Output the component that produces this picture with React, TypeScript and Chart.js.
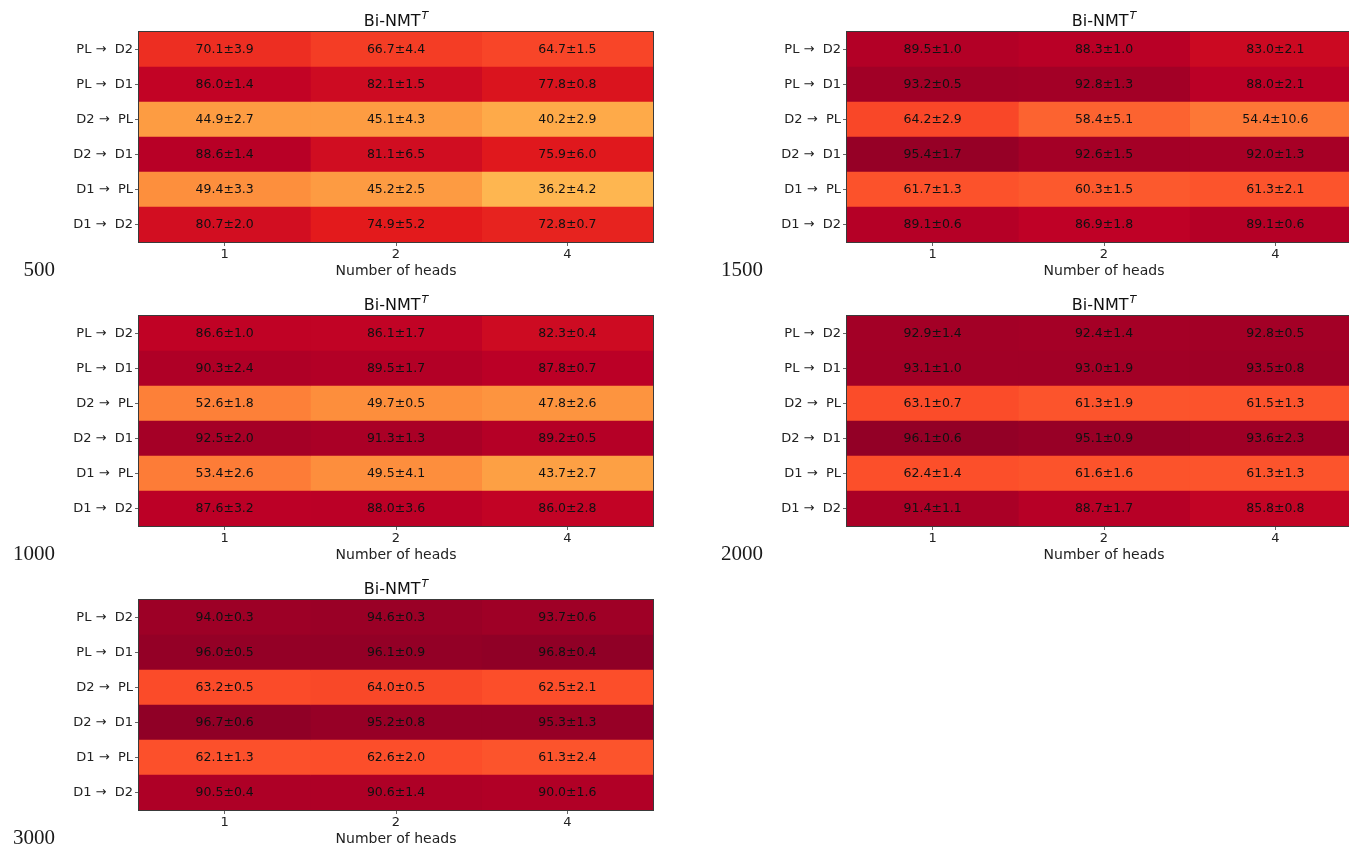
import React, { useEffect, useRef } from "react";
import { Chart, registerables } from "chart.js";

Chart.register(...registerables);

// ---------- data ----------
const rowLabels = ["PL \u2192  D2", "PL \u2192  D1", "D2 \u2192  PL", "D2 \u2192  D1", "D1 \u2192  PL", "D1 \u2192  D2"];
const headLabels = ["1", "2", "4"];
const panelTitle = "Bi-NMT";
const xAxisTitle = "Number of heads";

const mean500 = [
  [70.1, 66.7, 64.7],
  [86.0, 82.1, 77.8],
  [44.9, 45.1, 40.2],
  [88.6, 81.1, 75.9],
  [49.4, 45.2, 36.2],
  [80.7, 74.9, 72.8],
];
const std500 = [
  [3.9, 4.4, 1.5],
  [1.4, 1.5, 0.8],
  [2.7, 4.3, 2.9],
  [1.4, 6.5, 6.0],
  [3.3, 2.5, 4.2],
  [2.0, 5.2, 0.7],
];

const mean1500 = [
  [89.5, 88.3, 83.0],
  [93.2, 92.8, 88.0],
  [64.2, 58.4, 54.4],
  [95.4, 92.6, 92.0],
  [61.7, 60.3, 61.3],
  [89.1, 86.9, 89.1],
];
const std1500 = [
  [1.0, 1.0, 2.1],
  [0.5, 1.3, 2.1],
  [2.9, 5.1, 10.6],
  [1.7, 1.5, 1.3],
  [1.3, 1.5, 2.1],
  [0.6, 1.8, 0.6],
];

const mean1000 = [
  [86.6, 86.1, 82.3],
  [90.3, 89.5, 87.8],
  [52.6, 49.7, 47.8],
  [92.5, 91.3, 89.2],
  [53.4, 49.5, 43.7],
  [87.6, 88.0, 86.0],
];
const std1000 = [
  [1.0, 1.7, 0.4],
  [2.4, 1.7, 0.7],
  [1.8, 0.5, 2.6],
  [2.0, 1.3, 0.5],
  [2.6, 4.1, 2.7],
  [3.2, 3.6, 2.8],
];

const mean2000 = [
  [92.9, 92.4, 92.8],
  [93.1, 93.0, 93.5],
  [63.1, 61.3, 61.5],
  [96.1, 95.1, 93.6],
  [62.4, 61.6, 61.3],
  [91.4, 88.7, 85.8],
];
const std2000 = [
  [1.4, 1.4, 0.5],
  [1.0, 1.9, 0.8],
  [0.7, 1.9, 1.3],
  [0.6, 0.9, 2.3],
  [1.4, 1.6, 1.3],
  [1.1, 1.7, 0.8],
];

const mean3000 = [
  [94.0, 94.6, 93.7],
  [96.0, 96.1, 96.8],
  [63.2, 64.0, 62.5],
  [96.7, 95.2, 95.3],
  [62.1, 62.6, 61.3],
  [90.5, 90.6, 90.0],
];
const std3000 = [
  [0.3, 0.3, 0.6],
  [0.5, 0.9, 0.4],
  [0.5, 0.5, 2.1],
  [0.6, 0.8, 1.3],
  [1.3, 2.0, 2.4],
  [0.4, 1.4, 1.6],
];

const sizeLabels = ["500", "1500", "1000", "2000", "3000"];
const panelMeans = [mean500, mean1500, mean1000, mean2000, mean3000];
const panelStds = [std500, std1500, std1000, std2000, std3000];

// ---------- styling ----------
const YLORRD = [
  [1.0, 1.0, 0.8],
  [1.0, 0.929, 0.627],
  [0.996, 0.851, 0.463],
  [0.996, 0.698, 0.298],
  [0.992, 0.553, 0.235],
  [0.988, 0.306, 0.165],
  [0.89, 0.102, 0.11],
  [0.741, 0.0, 0.149],
  [0.502, 0.0, 0.149],
];
function cmap(v: number): string {
  let t = v / 100;
  t = Math.max(0, Math.min(1, t));
  const s = t * (YLORRD.length - 1);
  const i = Math.min(YLORRD.length - 2, Math.floor(s));
  const f = s - i;
  const a = YLORRD[i];
  const b = YLORRD[i + 1];
  const c = [0, 1, 2].map((k) => Math.round((a[k] + (b[k] - a[k]) * f) * 255));
  return `rgb(${c[0]},${c[1]},${c[2]})`;
}

const SANS = "'DejaVu Sans', sans-serif";
const CANVAS_W = 700;
const CANVAS_H = 284;

function Panel({ idx, left, top }: { idx: number; left: number; top: number }) {
  const ref = useRef<HTMLCanvasElement | null>(null);
  useEffect(() => {
    const canvas = ref.current;
    if (!canvas) return;
    const means = panelMeans[idx];
    const stds = panelStds[idx];
    const label = sizeLabels[idx];

    const datasets = headLabels.map((_, c) => ({
      label: headLabels[c],
      data: means.map(() => [c, c + 1]),
      backgroundColor: means.map((r) => cmap(r[c])),
      borderWidth: 0,
      barPercentage: 1,
      categoryPercentage: 1,
      grouped: false,
    }));

    const textPlugin = {
      id: "heatText",
      afterDraw(chart: any) {
        const ctx = chart.ctx;
        const xs = chart.scales.x;
        const ys = chart.scales.y;
        const ca = chart.chartArea;
        ctx.save();
        // cell texts
        ctx.fillStyle = "#111";
        ctx.font = `12.5px ${SANS}`;
        ctx.textAlign = "center";
        ctx.textBaseline = "middle";
        means.forEach((row, r) => {
          row.forEach((m, c) => {
            const x = xs.getPixelForValue(c + 0.5);
            const y = ys.getPixelForValue(r);
            ctx.fillText(`${m.toFixed(1)}\u00b1${stds[r][c].toFixed(1)}`, x, y);
          });
        });
        // frame
        ctx.strokeStyle = "#3a3a3a";
        ctx.lineWidth = 1;
        ctx.strokeRect(Math.round(ca.left) - 0.5, Math.round(ca.top) - 0.5, Math.round(ca.right - ca.left) + 1, Math.round(ca.bottom - ca.top) + 1);
        // title with superscript
        const cx = (ca.left + ca.right) / 2;
        ctx.fillStyle = "#111";
        ctx.textBaseline = "alphabetic";
        ctx.textAlign = "left";
        ctx.font = `16px ${SANS}`;
        const w1 = ctx.measureText(panelTitle).width;
        ctx.font = `italic 11px ${SANS}`;
        const w2 = ctx.measureText("T").width;
        const x0 = cx - (w1 + w2 + 1) / 2;
        ctx.font = `16px ${SANS}`;
        ctx.fillText(panelTitle, x0, 26);
        ctx.font = `italic 11px ${SANS}`;
        ctx.fillText("T", x0 + w1 + 1, 19);
        // side label
        ctx.font = `21px 'Liberation Serif', serif`;
        ctx.textAlign = "right";
        ctx.textBaseline = "middle";
        ctx.fillStyle = "#1a1a1a";
        ctx.fillText(label, 55, 270);
        ctx.restore();
      },
    };

    const chart = new Chart(canvas, {
      type: "bar",
      data: { labels: rowLabels, datasets },
      options: {
        indexAxis: "y",
        animation: false,
        responsive: false,
        devicePixelRatio: 1,
        layout: { padding: { left: 0, right: 47, top: 32, bottom: 0 } },
        plugins: { legend: { display: false }, tooltip: { enabled: false }, title: { display: false } },
        scales: {
          x: {
            type: "linear",
            min: 0,
            max: 3,
            afterFit: (s: any) => {
              s.height = 42;
            },
            afterBuildTicks: (s: any) => {
              s.ticks = headLabels.map((_, i) => ({ value: i + 0.5 }));
            },
            ticks: {
              callback: (_v: any, i: number) => headLabels[i],
              font: { family: SANS, size: 13 },
              color: "#222",
              padding: 1,
              maxRotation: 0,
              autoSkip: false,
            },
            grid: { display: true, drawOnChartArea: false, drawTicks: true, tickLength: 4, color: "#666", lineWidth: 1 },
            border: { display: false },
            title: {
              display: true,
              text: xAxisTitle,
              font: { family: SANS, size: 14 },
              color: "#222",
              padding: { top: 0, bottom: 4 },
            },
          },
          y: {
            type: "category",
            afterFit: (s: any) => {
              s.width = 139;
            },
            ticks: {
              font: { family: SANS, size: 13 },
              color: "#222",
              padding: 2,
              autoSkip: false,
            },
            grid: { display: true, drawOnChartArea: false, drawTicks: true, tickLength: 4, color: "#666", lineWidth: 1, offset: false },
            border: { display: false },
          },
        },
      } as any,
      plugins: [textPlugin],
    });
    return () => chart.destroy();
  }, [idx]);

  return (
    <canvas
      ref={ref}
      width={CANVAS_W}
      height={CANVAS_H}
      style={{ position: "absolute", left, top, width: CANVAS_W, height: CANVAS_H }}
    />
  );
}

export default function App() {
  const positions = [
    { left: 0, top: 0 },
    { left: 708, top: 0 },
    { left: 0, top: 284 },
    { left: 708, top: 284 },
    { left: 0, top: 568 },
  ];
  return (
    <div
      style={{
        position: "absolute",
        left: 0,
        top: 0,
        width: 1349,
        height: 846,
        overflow: "hidden",
        background: "#fff",
      }}
    >
      {positions.map((p, i) => (
        <Panel key={i} idx={i} left={p.left} top={p.top} />
      ))}
    </div>
  );
}
